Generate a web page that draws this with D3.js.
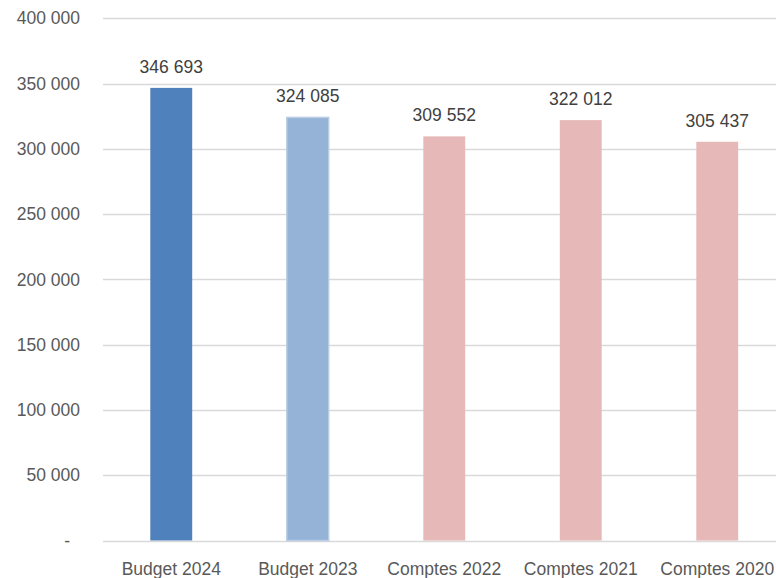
<!DOCTYPE html>
<html>
<head>
<meta charset="utf-8">
<script src="https://cdn.jsdelivr.net/npm/d3@7"></script>
<style>
  body { margin: 0; background: #fff; }
  svg { display: block; font-family: "Liberation Sans", Arial, sans-serif; }
</style>
</head>
<body>
<div id="chart"></div>
<script>
const categories = ['Budget 2024', 'Budget 2023', 'Comptes 2022', 'Comptes 2021', 'Comptes 2020'];
const values = [346693, 324085, 309552, 322012, 305437];
const colors = ['#4F81BD', '#95B3D7', '#E6B9B8', '#E6B9B8', '#E6B9B8'];
const yTicks = [0, 50000, 100000, 150000, 200000, 250000, 300000, 350000, 400000];

const width = 776, height = 578;
const margin = { top: 18.3, left: 103, bottom: 540.5 };

// french style thousands: "346 693"
const fmt = v => d3.format(',')(v).replace(/,/g, ' ');

const svg = d3.select('#chart').append('svg')
  .attr('width', width)
  .attr('height', height);

const x = d3.scaleBand()
  .domain(categories)
  .range([margin.left, 785.5])
  .paddingInner(0.693)
  .paddingOuter(0.3465);

const y = d3.scaleLinear()
  .domain([0, 400000])
  .range([margin.bottom, margin.top]);

// gridlines
svg.append('g')
  .selectAll('line').data(yTicks)
  .enter().append('line')
  .attr('x1', margin.left)
  .attr('x2', width)
  .attr('y1', d => Math.round(y(d)) + 0.5)
  .attr('y2', d => Math.round(y(d)) + 0.5)
  .attr('stroke', '#D9D9D9')
  .attr('stroke-width', 1.5);

// y axis labels
const yAxis = d3.axisLeft(y)
  .tickValues(yTicks)
  .tickSize(0)
  .tickPadding(0)
  .tickFormat(d => d === 0 ? '-' : fmt(d));

const gy = svg.append('g')
  .attr('transform', 'translate(80,0)')
  .call(yAxis);
gy.select('.domain').remove();
gy.selectAll('text')
  .attr('fill', '#595959')
  .attr('font-size', 17.5)
  .attr('font-family', '"Liberation Sans", Arial, sans-serif')
  .attr('dx', d => d === 0 ? -10 : 0);

// bars
svg.append('g')
  .selectAll('rect').data(values)
  .enter().append('rect')
  .attr('x', (_, i) => x(categories[i]))
  .attr('y', d => y(d))
  .attr('width', x.bandwidth())
  .attr('height', d => y(0) - y(d))
  .attr('fill', (_, i) => colors[i])
  .attr('stroke', (_, i) => i === 1 ? '#B9CDE5' : 'none')
  .attr('stroke-width', 1.5);

// value labels
svg.append('g')
  .selectAll('text').data(values)
  .enter().append('text')
  .text(d => fmt(d))
  .attr('x', (_, i) => x(categories[i]) + x.bandwidth() / 2)
  .attr('y', d => y(d) - 15)
  .attr('text-anchor', 'middle')
  .attr('font-size', 17.5)
  .attr('fill', '#404040');

// x axis labels
const xAxis = d3.axisBottom(x).tickSize(0).tickPadding(0);
const gx = svg.append('g')
  .attr('transform', `translate(0,${margin.bottom})`)
  .call(xAxis);
gx.select('.domain').remove();
gx.selectAll('text')
  .attr('fill', '#595959')
  .attr('font-size', 17.5)
  .attr('font-family', '"Liberation Sans", Arial, sans-serif')
  .attr('dy', null)
  .attr('y', 34);
</script>
</body>
</html>
